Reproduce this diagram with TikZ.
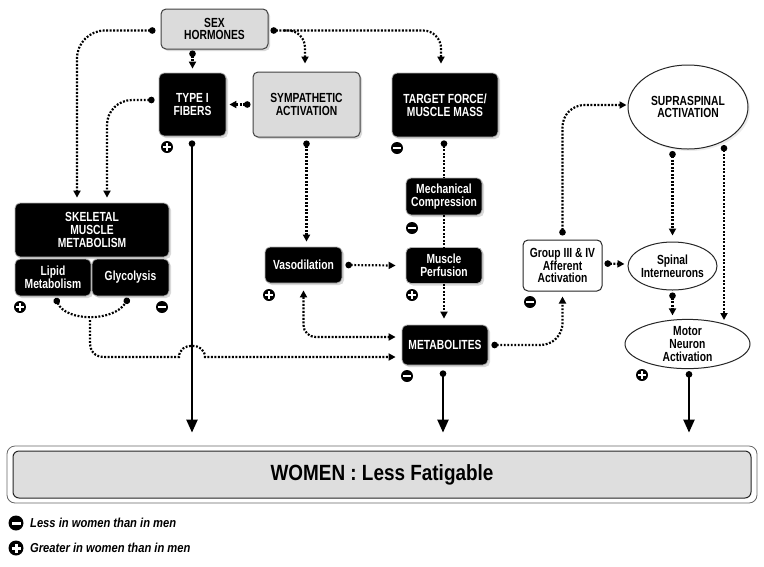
\documentclass[tikz,border=0pt]{standalone}
\usepackage{fontspec}
\newfontfamily\cf{Liberation Sans}[FakeStretch=0.78]
\newfontfamily\cfw{Liberation Sans}[FakeStretch=0.86]
\usetikzlibrary{arrows.meta,shapes.geometric,shadows}
\begin{document}
\begin{tikzpicture}[x=1pt,y=-1pt,
  shd/.style={drop shadow={shadow xshift=2pt,shadow yshift=-2pt,opacity=0.3}},
  bx/.style={rounded corners=5pt,align=center,inner sep=0pt,font=\cf\bfseries\fontsize{13.2}{12.8}\selectfont},
  blk/.style={bx,fill=black,text=white,draw=black!30,line width=0.8pt,shd},
  gry/.style={bx,fill=black!14,draw=black!75,line width=1pt,shd},
  wht/.style={bx,fill=white,draw=black!85,line width=1pt},
  ell/.style={ellipse,draw=black!85,line width=1pt,fill=white,align=center,inner sep=0pt,font=\cf\bfseries\fontsize{13.2}{12.8}\selectfont},
  dotline/.style={line width=2.2pt,dash pattern=on 1.9pt off 1.6pt},
  dd/.style={dotline,{Circle[length=6.5pt]}-{Triangle[length=7pt,width=7pt]}},
  dn/.style={dotline,-{Triangle[length=7pt,width=7pt]}},
  dc/.style={dotline,{Circle[length=6.5pt]}-},
  dcc/.style={dotline,{Circle[length=6.5pt]}-{Circle[length=6.5pt]}},
  db/.style={dotline,{Triangle[length=7pt,width=7pt]}-{Triangle[length=7pt,width=7pt]}},
  sa/.style={line width=2.2pt,{Circle[length=6.5pt]}-{Triangle[length=13pt,width=11pt]}},
  pm/.style={circle,fill=black,inner sep=0pt},
  minussign/.style={pm,minimum size=#1pt,path picture={\fill[white]
    ([xshift=-0.3*#1pt,yshift=-0.1*#1pt]path picture bounding box.center) rectangle
    ([xshift=0.3*#1pt,yshift=0.1*#1pt]path picture bounding box.center);}},
  minussign/.default=12,
  plussign/.style={pm,minimum size=#1pt,path picture={\fill[white]
    ([xshift=-0.3*#1pt,yshift=-0.1*#1pt]path picture bounding box.center) rectangle
    ([xshift=0.3*#1pt,yshift=0.1*#1pt]path picture bounding box.center);
    \fill[white]
    ([xshift=-0.1*#1pt,yshift=-0.3*#1pt]path picture bounding box.center) rectangle
    ([xshift=0.1*#1pt,yshift=0.3*#1pt]path picture bounding box.center);}},
  plussign/.default=12
]
\useasboundingbox (0,0) rectangle (764,566);

% nodes
\node[gry,minimum width=107,minimum height=40] (sex) at (214.5,29) {SEX\\HORMONES};
\node[blk,minimum width=67,minimum height=63] (typeI) at (192.5,104.5) {TYPE I\\FIBERS};
\node[gry,minimum width=107,minimum height=65] (symp) at (306.5,104.5) {SYMPATHETIC\\ACTIVATION};
\node[blk,minimum width=106,minimum height=64] (tf) at (445,105) {TARGET FORCE/\\MUSCLE MASS};
\node[ell,minimum width=120,minimum height=84,drop shadow={shadow xshift=2pt,shadow yshift=-2pt,opacity=0.15}] (supra) at (688,107) {SUPRASPINAL\\ACTIVATION};
\node[blk,minimum width=76,minimum height=37] (mech) at (444,196.5) {Mechanical\\Compression};
\node[blk,minimum width=76,minimum height=36] (perf) at (444,265.5) {Muscle\\Perfusion};
\node[blk,minimum width=77,minimum height=36] (vaso) at (303.5,265) {Vasodilation};
\node[blk,minimum width=86,minimum height=40] (metab) at (445,345) {METABOLITES};
\node[wht,minimum width=79,minimum height=51] (grp) at (562.5,265.5) {Group III \& IV\\Afferent\\Activation};
\node[ell,minimum width=89,minimum height=48] (spinal) at (672.5,266) {Spinal\\Interneurons};
\node[ell,minimum width=125,minimum height=48] (motor) at (687.5,344) {Motor\\Neuron\\Activation};
\node[blk,minimum width=154,minimum height=54] (skel) at (92,230) {SKELETAL\\MUSCLE\\METABOLISM};
\node[blk,minimum width=76,minimum height=37] (lipid) at (53,277.5) {Lipid\\Metabolism};
\node[blk,minimum width=77,minimum height=37] (glyc) at (130.5,277.5) {Glycolysis};

% signs
\node[plussign] (s1) at (167,147) {};
\node[minussign] (s2) at (397,148) {};
\node[plussign] (s3) at (20,307) {};
\node[minussign] (s4) at (162,307) {};
\node[plussign] (s5) at (269,295) {};
\node[minussign] (s6) at (412,228) {};
\node[plussign] (s7) at (412,295) {};
\node[minussign] (s8) at (530,302) {};
\node[minussign] (s9) at (407,376) {};
\node[plussign] (s10) at (642,375) {};

% bottom box
\node[draw=black!60,line width=0.8pt,fill=white,rounded corners=8pt,minimum width=750,minimum height=57] (wout) at (382,474.5) {};
\node[draw=black!85,line width=1pt,fill=black!13,rounded corners=6pt,minimum width=738,minimum height=47,
      font=\cfw\bfseries\fontsize{22}{24}\selectfont] (women) at (382,474.5) {WOMEN : Less Fatigable};

% legend
\node[minussign=15] (lm) at (16,523) {};
\node[plussign=15] (lp) at (16,548) {};
\node[anchor=west,inner sep=0pt,font=\cfw\bfseries\itshape\fontsize{13}{14}\selectfont] (lmt) at (30,523) {Less in women than in men};
\node[anchor=west,inner sep=0pt,font=\cfw\bfseries\itshape\fontsize{13}{14}\selectfont] (lpt) at (30,548) {Greater in women than in men};

% dotted connectors
\draw[dd,rounded corners=28pt] ([xshift=-5pt,yshift=-1.5pt]sex.west) -- (77,30.5) -- ([yshift=5pt]skel.north -| 77,0);
\draw[dd] ([yshift=-1pt]typeI.north |- sex.south) -- ([yshift=4pt]typeI.north);
\draw[dd,rounded corners=18pt] ([xshift=2pt,yshift=-1.5pt]sex.east) -- (441,30.5) -- ([yshift=9pt]tf.north -| 441,0);
\draw[dn,rounded corners=17pt] (284,30.5) -- (305,30.5) -- ([yshift=8pt]symp.north -| 305,0);
\draw[dd] ([xshift=-2pt]symp.west) -- ([xshift=3pt]typeI.east);
\draw[dd,rounded corners=25pt] ([xshift=-4pt,yshift=4.5pt]typeI.west) -- (107,100) -- ([yshift=5pt]skel.north -| 107,0);
\draw[dd] ([yshift=-3pt]symp.south) -- ([yshift=5pt]symp.south |- vaso.north);
\draw[dc] ([yshift=-3pt]tf.south -| mech.north) -- (mech.north);
\draw[dotline] (mech.south) -- (perf.north);
\draw[dn] (perf.south) -- ([yshift=6pt]perf.south |- metab.north);
\draw[dd] ([xshift=3pt]vaso.east) -- ([xshift=-10pt]perf.west);
\draw[db,rounded corners=12pt] ([yshift=-7pt]vaso.south) -- (303.5,337) -- ([xshift=-6pt,yshift=8pt]metab.west);
\draw[dcc] (55.5,298) .. controls (66,322) and (114,322) .. (128.5,298);
\draw[dn] (90,320) -- (90,342) .. controls (90,352) and (95,357) .. (105,357) -- (179,357)
   .. controls (179,342) and (205,342) .. (205,357) -- ([xshift=-6pt,yshift=-12pt]metab.west);
\draw[dd,rounded corners=22pt] ([xshift=3pt]metab.east) -- (562.5,345) -- ([yshift=-5pt]grp.south);
\draw[dd,rounded corners=22pt] ([yshift=4pt]grp.north) -- (562.5,105) -- ([xshift=-1pt,yshift=2pt]supra.west);
\draw[dd] ([xshift=2pt,yshift=2pt]grp.east) -- ([xshift=-3pt,yshift=2pt]spinal.west);
\draw[dd] ([yshift=-1.5pt]spinal.north |- supra.south) -- ([yshift=6pt]spinal.north);
\draw[dd] (724,145) -- (724,320);
\draw[dd] ([yshift=-2pt]spinal.south) -- ([yshift=3.5pt]spinal.south |- motor.north);

% solid arrows
\draw[sa] ([yshift=-4pt]typeI.south -| 192,0) -- ([yshift=13pt]wout.north -| 192,0);
\draw[sa] ([yshift=-5pt]metab.south -| 443,0) -- ([yshift=13pt]wout.north -| 443,0);
\draw[sa] ([yshift=-2pt]motor.south -| 689,0) -- ([yshift=13pt]wout.north -| 689,0);
\end{tikzpicture}
\end{document}
